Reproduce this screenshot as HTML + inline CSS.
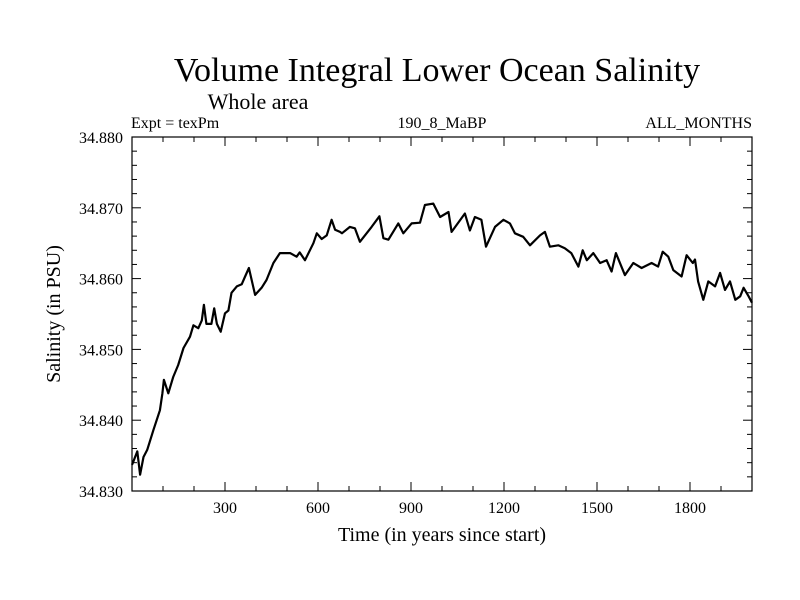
<!DOCTYPE html>
<html><head><meta charset="utf-8"><style>
body{margin:0;background:#fff;}
svg{display:block;font-family:"Liberation Serif",serif;}
</style></head><body>
<svg id="c" width="800" height="600">
<rect width="800" height="600" fill="#fff"/>
<text x="437" y="81" font-size="34" text-anchor="middle">Volume Integral Lower Ocean Salinity</text>
<text x="258" y="109" font-size="22" text-anchor="middle">Whole area</text>
<text x="131" y="128" font-size="16">Expt = texPm</text>
<text x="442" y="128" font-size="16" text-anchor="middle">190_8_MaBP</text>
<text x="752" y="128" font-size="16" text-anchor="end">ALL_MONTHS</text>
<text x="442" y="541" font-size="20" text-anchor="middle">Time (in years since start)</text>
<text transform="translate(60,314) rotate(-90)" font-size="20" text-anchor="middle">Salinity (in PSU)</text>
<g id="axes"></g>
<path id="line" fill="none" stroke="#000" stroke-width="2.2" stroke-linejoin="round"/>
<rect x="132" y="137" width="620" height="354" fill="none" stroke="#000" stroke-width="1.2"/>
</svg>
<script>
const years=[0,3,17,26,37,49,69,90,98,103,117,133,149,166,187,198,214,225,232,240,256,265,274,286,300,311,321,338,354,365,377,397,418,434,456,477,510,531,541,558,585,596,612,628,644,655,671,677,703,719,735,773,798,811,827,859,875,902,929,945,972,994,1021,1031,1074,1090,1106,1127,1142,1171,1198,1219,1235,1262,1284,1316,1332,1348,1375,1396,1417,1440,1454,1467,1488,1510,1531,1547,1561,1590,1617,1644,1676,1697,1712,1730,1746,1773,1789,1809,1816,1826,1843,1859,1881,1897,1913,1929,1946,1962,1973,1989,2000];
const salinity=[34.8337,34.8340,34.8356,34.8323,34.8348,34.8358,34.8386,34.8414,34.8438,34.8457,34.8438,34.8461,34.8478,34.8502,34.8518,34.8534,34.8530,34.8541,34.8563,34.8536,34.8536,34.8558,34.8536,34.8525,34.8551,34.8555,34.8580,34.8589,34.8592,34.8603,34.8615,34.8577,34.8587,34.8598,34.8622,34.8636,34.8636,34.8631,34.8637,34.8626,34.8650,34.8664,34.8656,34.8661,34.8683,34.8669,34.8666,34.8664,34.8673,34.8671,34.8652,34.8673,34.8688,34.8657,34.8655,34.8678,34.8664,34.8678,34.8679,34.8704,34.8706,34.8687,34.8694,34.8666,34.8692,34.8668,34.8687,34.8683,34.8645,34.8673,34.8683,34.8678,34.8664,34.8659,34.8647,34.8661,34.8666,34.8645,34.8647,34.8643,34.8636,34.8617,34.8640,34.8626,34.8636,34.8622,34.8626,34.8610,34.8636,34.8605,34.8622,34.8615,34.8622,34.8617,34.8638,34.8631,34.8612,34.8603,34.8633,34.8622,34.8627,34.8596,34.8570,34.8596,34.8589,34.8608,34.8584,34.8596,34.8570,34.8575,34.8587,34.8575,34.8566];
const xTicks=[300,600,900,1200,1500,1800];
const yTicks=[34.830,34.840,34.850,34.860,34.870,34.880];
const yTickLabels=["34.830","34.840","34.850","34.860","34.870","34.880"];
const X0=132,X1=752,Y0=137,Y1=491,xMin=0,xMax=2000,yMin=34.830,yMax=34.880;
const xs=v=>X0+(v-xMin)/(xMax-xMin)*(X1-X0);
const ys=v=>Y1-(v-yMin)/(yMax-yMin)*(Y1-Y0);
const NS="http://www.w3.org/2000/svg";
const g=document.getElementById('axes');
function ln(x1,y1,x2,y2){const l=document.createElementNS(NS,'line');l.setAttribute('x1',x1);l.setAttribute('y1',y1);l.setAttribute('x2',x2);l.setAttribute('y2',y2);l.setAttribute('stroke','#000');l.setAttribute('stroke-width','1');g.appendChild(l);return l;}
for(let v=100;v<2000;v+=100){const x=xs(v);const L=(v%300===0)?9:5;
const a=ln(x,Y1,x,Y1-L);
const b=ln(x,Y0,x,Y0+L);}
for(let i=1;i<25;i++){const v=yMin+i*0.002;const y=ys(v);const L=(i%5===0)?9:5;
const a=ln(X0,y,X0+L,y);
const b=ln(X1,y,X1-L,y);}
xTicks.forEach(v=>{const t=document.createElementNS(NS,'text');t.setAttribute('x',xs(v));t.setAttribute('y',Y1+22);t.setAttribute('font-size','16');t.setAttribute('text-anchor','middle');t.textContent=String(v);


g.appendChild(t);});
yTicks.forEach((v,i)=>{const t=document.createElementNS(NS,'text');t.setAttribute('x',X0-9);t.setAttribute('y',ys(v)+6);t.setAttribute('font-size','16');t.setAttribute('text-anchor','end');t.textContent=yTickLabels[i];


g.appendChild(t);});
document.getElementById('line').setAttribute('d',years.map((y,i)=>(i?'L':'M')+xs(y).toFixed(1)+','+ys(salinity[i]).toFixed(1)).join(''));
</script>
</body></html>
